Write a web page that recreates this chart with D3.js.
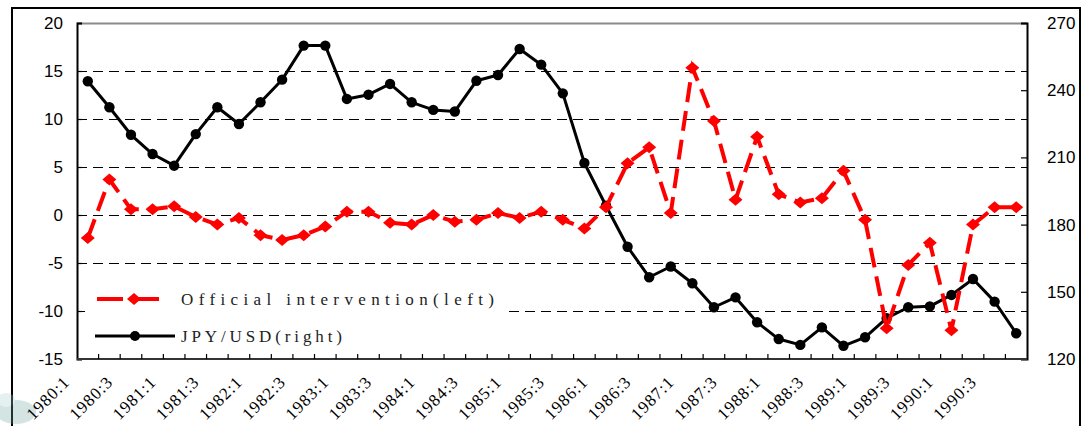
<!DOCTYPE html>
<html>
<head>
<meta charset="utf-8">
<script src="https://cdn.jsdelivr.net/npm/d3@7"></script>
<style>
  html, body { margin: 0; padding: 0; background: #fff; }
  svg { display: block; }
</style>
</head>
<body>
<svg id="chart" width="1085" height="426"></svg>
<script>
// ---- data ----
const categories = [
  "1980:1","1980:2","1980:3","1980:4","1981:1","1981:2","1981:3","1981:4",
  "1982:1","1982:2","1982:3","1982:4","1983:1","1983:2","1983:3","1983:4",
  "1984:1","1984:2","1984:3","1984:4","1985:1","1985:2","1985:3","1985:4",
  "1986:1","1986:2","1986:3","1986:4","1987:1","1987:2","1987:3","1987:4",
  "1988:1","1988:2","1988:3","1988:4","1989:1","1989:2","1989:3","1989:4",
  "1990:1","1990:2","1990:3","1990:4"
];
const intervention = [
  -2.4, 3.7, 0.6, 0.6, 0.9, -0.2, -1.0, -0.3,
  -2.1, -2.6, -2.1, -1.2, 0.35, 0.35, -0.8, -1.0,
  0.0, -0.7, -0.5, 0.2, -0.3, 0.35, -0.5, -1.4,
  0.8, 5.4, 7.05, 0.2, 15.35, 9.8, 1.6, 8.15,
  2.15, 1.3, 1.75, 4.6, -0.5, -11.8, -5.2, -2.9,
  -12.0, -1.0, 0.8, 0.8
];
const jpyusd = [
  244.0, 232.4, 220.1, 211.5, 206.3, 220.4, 232.4, 224.9,
  234.6, 244.7, 259.9, 259.9, 236.1, 238.0, 242.8, 234.6,
  231.2, 230.5, 244.2, 246.8, 258.4, 251.4, 238.6, 207.5,
  188.4, 170.1, 156.5, 161.3, 153.8, 143.1, 147.5, 136.4,
  128.9, 126.3, 134.1, 125.9, 129.7, 138.2, 143.1, 143.5,
  148.6, 155.7, 145.6, 131.5
];
const leftTicks = [-15, -10, -5, 0, 5, 10, 15, 20];
const rightTicks = [120, 150, 180, 210, 240, 270];
const gridValues = [-10, -5, 0, 5, 10, 15];
const xLabels = categories.filter((d, i) => i % 2 === 0);
const seriesNames = ["Official intervention(left)", "JPY/USD(right)"];

// ---- layout ----
const svg = d3.select("#chart");
const L = 77, R = 1027, T = 23, B = 359;

const x = d3.scaleBand().domain(categories).range([L, R]).padding(0);
const yL = d3.scaleLinear().domain([-15, 20]).range([B, T]);
const yR = d3.scaleLinear().domain([120, 270]).range([B, T]);
const cx = d => x(d) + x.bandwidth() / 2;
const hyphen = d => String(d).replace("\u2212", "-");

// outer frame
svg.append("rect").attr("x", 12).attr("y", 8).attr("width", 1068).attr("height", 440)
  .attr("fill", "none").attr("stroke", "#000").attr("stroke-width", 2);

// faint watermark graphic bottom-left
const wm = svg.append("g").attr("opacity", 0.3);
wm.append("ellipse").attr("cx", 16).attr("cy", 412).attr("rx", 20).attr("ry", 12).attr("fill", "#6fa8a0");
wm.append("ellipse").attr("cx", 6).attr("cy", 400).attr("rx", 9).attr("ry", 7).attr("fill", "#a9d2cc");

// gridlines
svg.append("g").selectAll("line").data(gridValues).join("line")
  .attr("x1", L).attr("x2", R)
  .attr("y1", d => Math.round(yL(d)) + 0.5).attr("y2", d => Math.round(yL(d)) + 0.5)
  .attr("stroke", "#000").attr("stroke-width", 1)
  .attr("stroke-dasharray", "10,6");

// top border (gray)
svg.append("line").attr("x1", L).attr("x2", R).attr("y1", T + 0.5).attr("y2", T + 0.5)
  .attr("stroke", "#8a8a8a").attr("stroke-width", 2);

// left axis
const axL = d3.axisLeft(yL).tickValues(leftTicks).tickSize(-5).tickPadding(14).tickFormat(d => hyphen(d));
const gL = svg.append("g").attr("transform", `translate(${L},0)`).call(axL);
gL.select(".domain").attr("stroke", "#000").attr("stroke-width", 2);
gL.selectAll(".tick line").attr("stroke", "#000").attr("stroke-width", 1.2);
gL.selectAll(".tick text").attr("font-family", "Liberation Sans, Arial, sans-serif")
  .attr("font-size", 17).attr("fill", "#000");

// right axis
const axR = d3.axisRight(yR).tickValues(rightTicks).tickSize(-6).tickPadding(20);
const gR = svg.append("g").attr("transform", `translate(${R},0)`).call(axR);
gR.select(".domain").attr("stroke", "#000").attr("stroke-width", 2);
gR.selectAll(".tick line").attr("stroke", "#000").attr("stroke-width", 1.2);
gR.selectAll(".tick text").attr("font-family", "Liberation Sans, Arial, sans-serif")
  .attr("font-size", 17).attr("fill", "#000");

// bottom axis line + ticks at category boundaries
const gB = svg.append("g");
gB.append("line").attr("x1", L).attr("x2", R).attr("y1", B).attr("y2", B)
  .attr("stroke", "#333").attr("stroke-width", 2);
gB.selectAll("line.tk").data(categories.slice(1)).join("line").attr("class", "tk")
  .attr("x1", d => x(d)).attr("x2", d => x(d))
  .attr("y1", B).attr("y2", B - 5)
  .attr("stroke", "#000").attr("stroke-width", 1.2);
gB.selectAll("text").data(xLabels).join("text")
  .attr("transform", d => `translate(${cx(d) - 17},${B + 24}) rotate(-45)`)
  .attr("text-anchor", "end")
  .attr("font-family", "Liberation Serif, Times New Roman, serif")
  .attr("font-size", 17)
  .attr("letter-spacing", 1)
  .attr("fill", "#000")
  .text(d => d);

// legend (white box hides gridline)
const lg = svg.append("g");
lg.append("rect").attr("x", 85).attr("y", 282).attr("width", 423).attr("height", 70).attr("fill", "#fff");
lg.append("line").attr("x1", 97).attr("x2", 167).attr("y1", 299).attr("y2", 299)
  .attr("stroke", "#ff0000").attr("stroke-width", 4).attr("stroke-dasharray", "26,10");
lg.append("path").attr("d", "M0,-6L7,0L0,6L-7,0Z").attr("transform", "translate(134,299)").attr("fill", "#ff0000");
lg.append("line").attr("x1", 95).attr("x2", 175).attr("y1", 336).attr("y2", 336)
  .attr("stroke", "#000").attr("stroke-width", 3);
lg.append("circle").attr("cx", 135).attr("cy", 336).attr("r", 5).attr("fill", "#000");
lg.append("text").attr("x", 181).attr("y", 305)
  .attr("font-family", "Liberation Serif, Times New Roman, serif").attr("font-size", 17)
  .attr("textLength", 313).attr("lengthAdjust", "spacing").attr("fill", "#222")
  .text(seriesNames[0]);
lg.append("text").attr("x", 181).attr("y", 342)
  .attr("font-family", "Liberation Serif, Times New Roman, serif").attr("font-size", 17)
  .attr("textLength", 161).attr("lengthAdjust", "spacing").attr("fill", "#222")
  .text(seriesNames[1]);

// black series (right axis)
const lineR = d3.line().x((d, i) => cx(categories[i])).y(d => yR(d));
svg.append("path").datum(jpyusd).attr("d", lineR)
  .attr("fill", "none").attr("stroke", "#000").attr("stroke-width", 3).attr("stroke-linejoin", "round");
svg.append("g").selectAll("circle").data(jpyusd).join("circle")
  .attr("cx", (d, i) => cx(categories[i])).attr("cy", d => yR(d))
  .attr("r", 5.2).attr("fill", "#000");

// red series (left axis)
const lineL = d3.line().x((d, i) => cx(categories[i])).y(d => yL(d));
svg.append("path").datum(intervention).attr("d", lineL)
  .attr("fill", "none").attr("stroke", "#ff0000").attr("stroke-width", 4)
  .attr("stroke-dasharray", "20,9");
svg.append("g").selectAll("path").data(intervention).join("path")
  .attr("d", "M0,-6L7,0L0,6L-7,0Z")
  .attr("transform", (d, i) => `translate(${cx(categories[i])},${yL(d)})`)
  .attr("fill", "#ff0000");
</script>
</body>
</html>
